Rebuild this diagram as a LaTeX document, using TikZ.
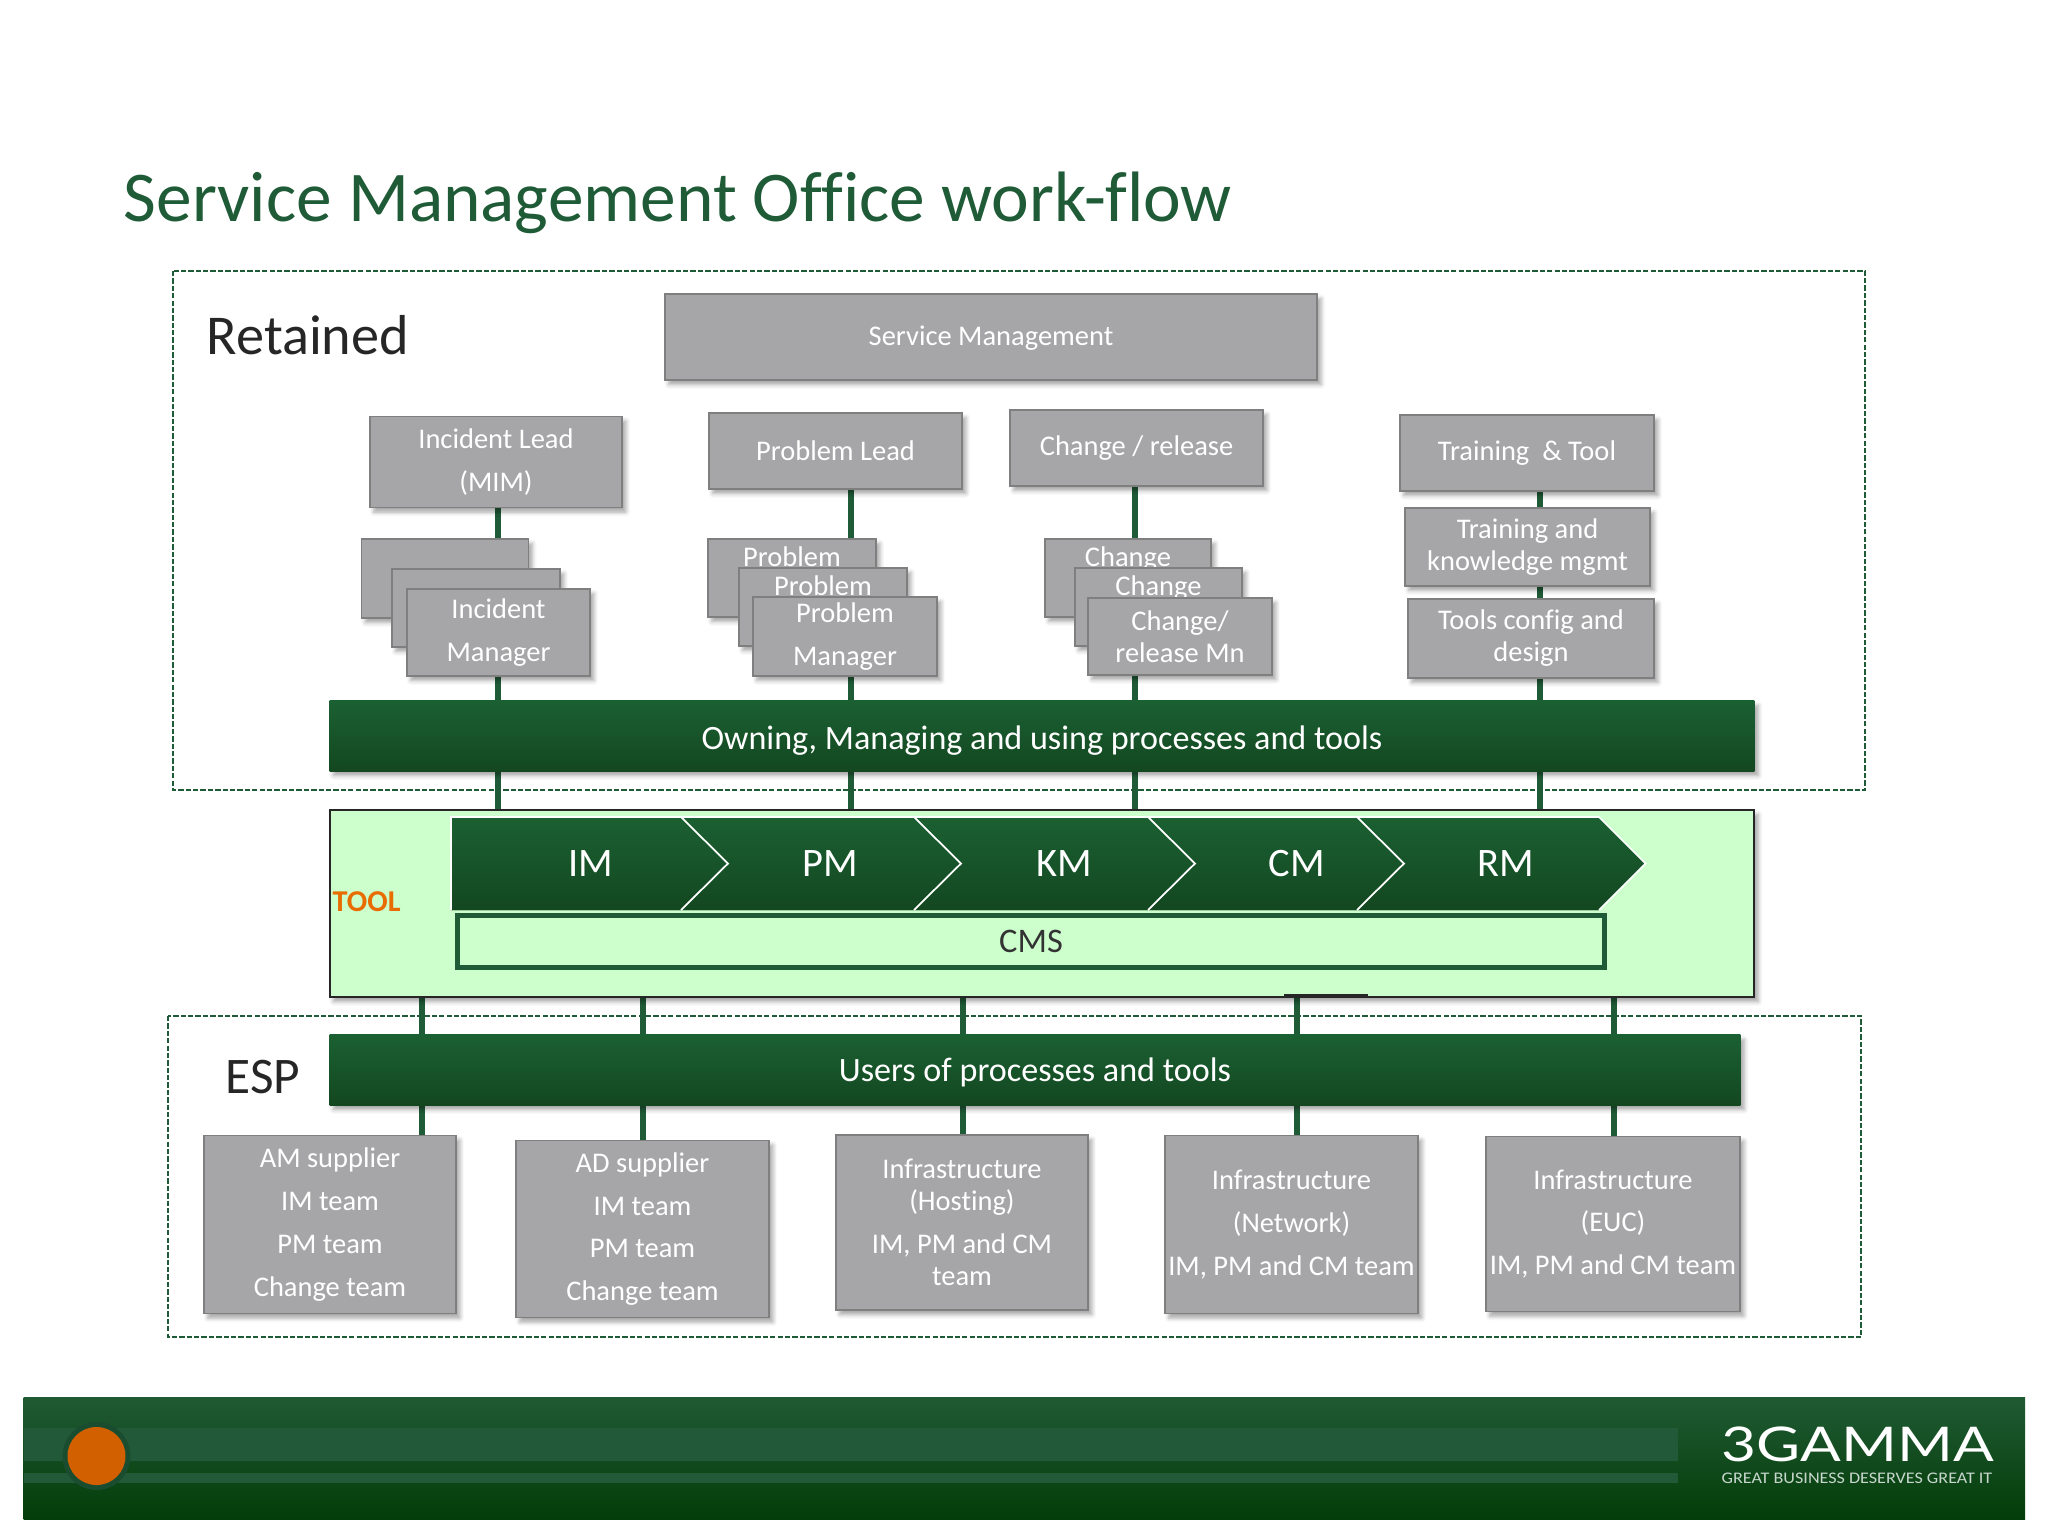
\documentclass[tikz,border=0pt]{standalone}
\usepackage{fontspec}
\setmainfont{Carlito}[Ligatures=CommonOff]
\newfontfamily\logofont{Lato}
\usetikzlibrary{shadows.blur,backgrounds}
\definecolor{smogreen}{HTML}{1F5B37}
\definecolor{bartop}{HTML}{1B6032}
\definecolor{barbot}{HTML}{134720}
\definecolor{boxgrey}{HTML}{A6A5A7}
\definecolor{boxline}{HTML}{7F7F7F}
\definecolor{toolgreen}{HTML}{CCFFCC}
\definecolor{foottop}{HTML}{205A34}
\definecolor{footbot}{HTML}{033D08}
\definecolor{footstrip}{HTML}{225938}
\definecolor{toolorange}{HTML}{E96C00}
\definecolor{dotorange}{HTML}{D25F00}
\tikzset{
  softshadow/.style={blur shadow={shadow xshift=1.1pt, shadow yshift=-1.3pt, shadow blur radius=1.2pt, shadow opacity=35}},
  greybox/.style={draw=boxline, line width=.5pt, fill=boxgrey, text=white, inner sep=0pt, outer sep=0pt, align=center, softshadow, font=\fontsize{8.1}{9.1}\selectfont},
  loose/.style={font=\fontsize{8.1}{12.2}\selectfont},
  greenbar/.style={top color=bartop, bottom color=barbot, text=white, inner sep=0pt, outer sep=0pt, softshadow, font=\fontsize{9.7}{12}\selectfont},
  link/.style={smogreen, line width=1.6pt},
  dashbox/.style={smogreen, line width=.6pt, dash pattern=on 1.5pt off .6pt},
  chevtext/.style={text=white, font=\fontsize{11.5}{13}\selectfont},
}
\begin{document}
\begin{tikzpicture}[x=0.01cm, y=-0.01cm]
\useasboundingbox (0,0) rectangle (2048,1536);
% Title
\node[anchor=west, inner sep=0pt, text=smogreen, font=\fontsize{20.3}{24}\selectfont] (title) at (123,203) {Service Management Office work-flow};
% Dashed frames
\draw[dashbox] (173,271) rectangle (1865,790);
\draw[dashbox] (168,1016) rectangle (1861,1337);
\node[anchor=west, inner sep=0pt, text=black!85, font=\fontsize{16}{18}\selectfont] (retained) at (206,335) {Retained};
\node[anchor=west, inner sep=0pt, text=black!85, font=\fontsize{14.6}{18}\selectfont] (esp) at (225,1077) {ESP};
% Retained boxes
\node[greybox, minimum width=6.52cm, minimum height=.86cm] (service) at (991,337) {\raisebox{-2.4pt}[0pt][0pt]{Service Management}};
\node[greybox, loose, minimum width=2.52cm, minimum height=.91cm] (incidentlead) at (496,462) {Incident Lead\\(MIM)};
\node[greybox, minimum width=2.53cm, minimum height=.76cm] (problemlead) at (835.5,451) {Problem Lead};
\node[greybox, minimum width=2.53cm, minimum height=.76cm] (changelead) at (1136.5,448) {Change / release};
\node[greybox, minimum width=2.54cm, minimum height=.76cm] (traininglead) at (1527,453) {Training \ \& Tool};
% Stacks
\node[greybox, minimum width=1.67cm, minimum height=.79cm] (incidentA) at (445,578.5) {};
\node[greybox, minimum width=1.68cm, minimum height=.78cm] (incidentB) at (476,608) {};
\node[greybox, loose, minimum width=1.83cm, minimum height=.87cm] (incidentC) at (498.5,632.5) {Incident\\Manager};
\node[greybox, loose, minimum width=1.68cm, minimum height=.78cm] (problemA) at (792,578) {Problem\\~};
\node[greybox, loose, minimum width=1.68cm, minimum height=.78cm] (problemB) at (823,607) {Problem\\~};
\node[greybox, loose, minimum width=1.84cm, minimum height=.79cm] (problemC) at (845,636.5) {Problem\\Manager};
\node[greybox, loose, minimum width=1.66cm, minimum height=.78cm] (changeA) at (1128,578) {Change\\~};
\node[greybox, loose, minimum width=1.67cm, minimum height=.78cm] (changeB) at (1158.5,607) {Change\\~};
\node[greybox, minimum width=1.84cm, minimum height=.77cm] (changeC) at (1180,636.5) {Change/\\release Mn};
\node[greybox, minimum width=2.45cm, minimum height=.78cm] (trainingmgmt) at (1527.5,547) {Training and\\knowledge mgmt};
\node[greybox, minimum width=2.46cm, minimum height=.79cm] (toolsconfig) at (1531,638.5) {Tools config and\\design};
% Bars
\node[greenbar, minimum width=14.24cm, minimum height=.70cm] (ownbar) at (1042,736) {\raisebox{-3.7pt}[0pt][0pt]{Owning, Managing and using processes and tools}};
\node[draw=black!85, line width=.6pt, fill=toolgreen, inner sep=0pt, outer sep=0pt, softshadow, minimum width=14.24cm, minimum height=1.87cm] (toolbox) at (1042,903.5) {};
\node[greenbar, minimum width=14.10cm, minimum height=.70cm] (usersbar) at (1035,1070) {\raisebox{-3.4pt}[0pt][0pt]{Users of processes and tools}};
\node[anchor=west, inner sep=0pt, text=toolorange, font=\fontsize{8.6}{10}\selectfont\bfseries] (toollabel) at (332,902) {TOOL};
% Chevrons
\fill[top color=bartop, bottom color=barbot] (451,817) -- (1599,817) -- (1645.5,863.5) -- (1599,910) -- (451,910) -- cycle;
\draw[white, line width=.5pt] (451,910) -- (451,817) -- (1599,817) -- (1645.5,863.5) -- (1599,910);
\foreach \notch in {681,914,1148,1357}
  \draw[white, line width=.5pt] (\notch,817) -- (\notch+47,863.5) -- (\notch,910);
\foreach \name/\xpos in {IM/591,PM/830,KM/1064,CM/1297,RM/1506}
  \node[chevtext] (chev\name) at (\xpos,864) {\name};
\node[draw=smogreen, line width=1.5pt, fill=toolgreen, inner sep=0pt, outer sep=0pt, minimum width=11.46cm, minimum height=.52cm, text=black!80, font=\fontsize{9.8}{12}\selectfont] (cms) at (1031,941.5) {CMS};
\draw[black!85, line width=.7pt] (1284,995) -- (1368,995);
% ESP boxes
\node[greybox, loose, minimum width=2.52cm, minimum height=1.78cm] (amteam) at (330,1224.5) {AM supplier\\IM team\\PM team\\Change team};
\node[greybox, loose, minimum width=2.53cm, minimum height=1.77cm] (adteam) at (642.5,1229) {AD supplier\\IM team\\PM team\\Change team};
\node[greybox, minimum width=2.52cm, minimum height=1.75cm] (hosting) at (962,1222.5) {Infrastructure\\(Hosting)\\[3pt]IM, PM and CM\\team};
\node[greybox, loose, minimum width=2.53cm, minimum height=1.78cm] (network) at (1291.5,1224.5) {Infrastructure\\(Network)\\IM, PM and CM team};
\node[greybox, loose, minimum width=2.54cm, minimum height=1.75cm] (euc) at (1613,1224) {Infrastructure\\(EUC)\\IM, PM and CM team};
% Links
\begin{scope}[on background layer]
\foreach \from/\shift in {incidentlead/.02, problemlead/.155, changelead/-.015, traininglead/.13}
  \draw[link] ([xshift=\shift cm]\from.south) -- ([xshift=\shift cm]\from.south |- toolbox.north);
\foreach \to/\shift in {amteam/.92, adteam/.005, hosting/.01, network/.055, euc/.01}
  \draw[link] ([xshift=\shift cm]\to.north |- toolbox.south) -- ([xshift=\shift cm]\to.north);
\end{scope}
% Footer
\fill[top color=foottop, bottom color=footbot] (23.5,1397) rectangle (2025,1519);
\fill[footstrip] (23.5,1428) rectangle (1678,1461);
\fill[footstrip] (23.5,1473) rectangle (1678,1483);
\fill[black!15!smogreen] (96.5,1456) circle (34);
\fill[dotorange] (96.5,1456) circle (29);
\node[anchor=west, inner sep=0pt, text=white, font=\fontsize{13.6}{16}\logofont] (logo) at (1721,1444) {\scalebox{1.26}[1]{3GAMMA}};
\node[anchor=west, inner sep=0pt, text=white!75!smogreen, font=\fontsize{4.6}{5}\selectfont] (tagline) at (1721,1478) {\scalebox{1.12}[1]{GREAT BUSINESS DESERVES GREAT IT}};
\end{tikzpicture}
\end{document}
